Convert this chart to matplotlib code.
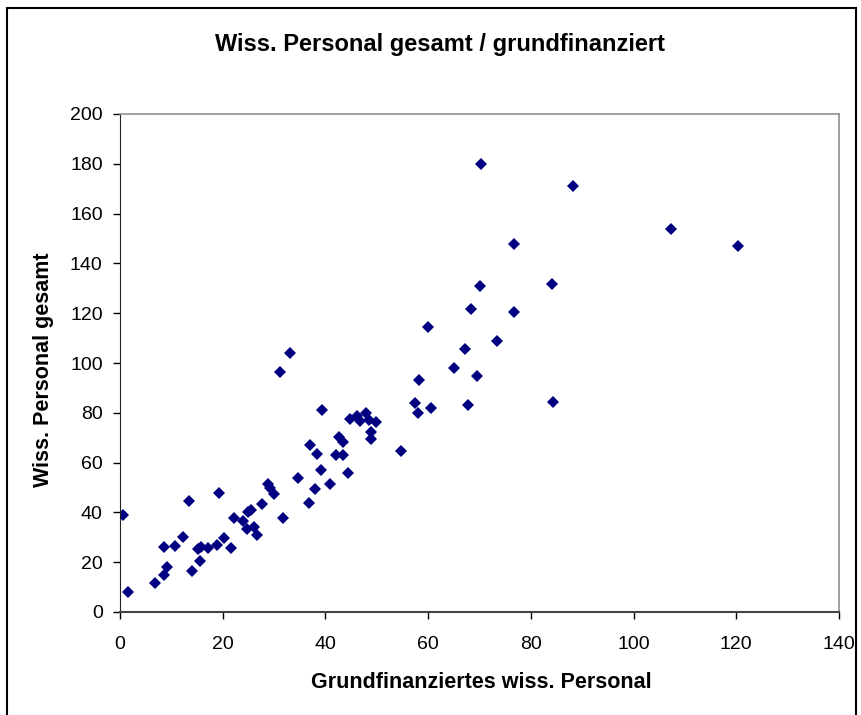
import matplotlib
matplotlib.use("Agg")
import matplotlib.pyplot as plt
from matplotlib.patches import Rectangle

plt.rcParams['font.family'] = ['Liberation Sans', 'DejaVu Sans']

# Grundfinanziertes wiss. Personal (x) / Wiss. Personal gesamt (y)
grund = [0.65, 1.6, 6.9, 8.6, 9.2, 8.6, 10.7, 12.3, 13.4, 14.0,
         15.6, 15.1, 15.7, 17.2, 18.8, 19.3, 20.2, 21.6, 22.2, 23.9,
         24.7, 25.0, 25.6, 26.0, 26.6, 27.7, 28.9, 29.2, 29.9, 31.2,
         31.8, 33.1, 34.6, 36.8, 37.0, 38.0, 38.3, 39.1, 39.3, 40.8,
         42.1, 43.5, 42.7, 43.5, 44.4, 44.8, 46.2, 46.7, 47.9, 48.5,
         49.8, 48.8, 48.9, 54.8, 57.4, 58.0, 58.3, 60.5, 59.9, 65.0,
         67.2, 67.8, 68.3, 69.5, 70.1, 70.3, 73.5, 76.8, 76.8, 84.1,
         84.4, 88.3, 107.3, 120.3]
gesamt = [39.0, 8.2, 11.5, 14.9, 17.9, 26.2, 26.6, 30.3, 44.7, 16.5,
          20.5, 25.2, 26.0, 25.6, 26.9, 47.7, 29.6, 25.6, 37.9, 36.7,
          33.2, 40.0, 41.0, 34.3, 30.9, 43.4, 51.4, 49.7, 47.4, 96.5,
          37.9, 104.1, 53.7, 43.6, 67.1, 49.4, 63.5, 57.0, 81.1, 51.3,
          63.0, 63.0, 70.2, 68.1, 55.9, 77.4, 78.7, 76.8, 80.0, 77.1,
          76.4, 72.4, 69.3, 64.7, 84.1, 79.8, 93.2, 82.0, 114.6, 97.9,
          105.5, 83.1, 121.7, 94.9, 131.0, 179.8, 108.8, 147.8, 120.5, 131.6,
          84.5, 171.1, 153.7, 147.1]

xticks = [0, 20, 40, 60, 80, 100, 120, 140]
yticks = [0, 20, 40, 60, 80, 100, 120, 140, 160, 180, 200]

W, H = 861, 715
fig = plt.figure(figsize=(W / 100, H / 100), dpi=100)
ax = fig.add_axes([120 / W, 1 - 612 / H, (839 - 120) / W, (612 - 114) / H])

ax.plot(grund, gesamt, linestyle="none", marker="D", markersize=6.6,
        color="#000080", markeredgewidth=0)

ax.set_xlim(0, 140)
ax.set_ylim(0, 200)
ax.set_xticks(xticks)
ax.set_yticks(yticks)
ax.tick_params(direction="out", length=5, width=1, labelsize=14,
               colors="black")
ax.tick_params(axis="x", pad=12)
ax.tick_params(axis="y", pad=7.5)

ax.spines["left"].set_color("#222222")
ax.spines["bottom"].set_color("#444444")
ax.spines["bottom"].set_linewidth(1.5)
for s in ("top", "right"):
    ax.spines[s].set_color("#909090")
    ax.spines[s].set_linewidth(1.2)

fig.text(440 / W, 1 - 45 / H, "Wiss. Personal gesamt / grundfinanziert",
         ha="center", va="center", fontsize=17, fontweight="bold")
fig.text(481 / W, 1 - 683 / H, "Grundfinanziertes wiss. Personal",
         ha="center", va="center", fontsize=15.5, fontweight="bold")
fig.text(44 / W, 1 - 370 / H, "Wiss. Personal gesamt", rotation=90,
         ha="center", va="center", fontsize=15.5, fontweight="bold")

# chart border
fig.patches.append(Rectangle((7 / W, -0.05), (856 - 7) / W, 1 - 8 / H + 0.05,
                             transform=fig.transFigure, fill=False,
                             edgecolor="black", linewidth=1.5))

fig.savefig("out.png", dpi=100)
